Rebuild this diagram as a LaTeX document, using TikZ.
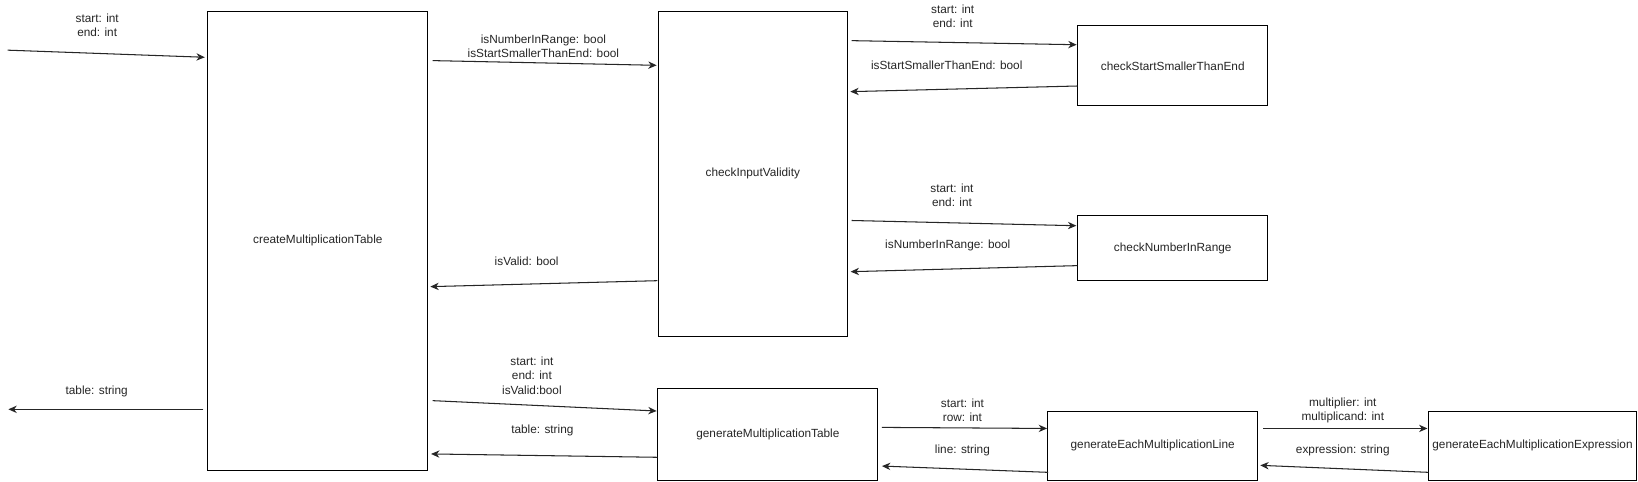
\documentclass[tikz,border=0pt]{standalone}
\usepackage{fontspec}
\setmainfont{Liberation Sans}
\usetikzlibrary{arrows.meta}
\begin{document}
\begin{tikzpicture}[x=1pt,y=-1pt,
  box/.style={draw=black, line width=1pt, fill=white, inner sep=0pt, anchor=north west,
    font=\fontsize{11.3}{13.5}\selectfont, text=black!85},
  lbl/.style={inner sep=0pt, align=center, font=\fontsize{11.3}{13.5}\selectfont, text=black!85},
  arr/.style={draw=black!85, line width=1pt, -{Stealth[length=8pt,width=7pt,inset=2.5pt]}}]
\useasboundingbox[fill=white] (0,0) rectangle (1567.5,461.2);
% boxes
\node[box, minimum width=210.5pt, minimum height=439.3pt] (cmt) at (198.4,10.2) {createMultiplicationTable};
\node[box, minimum width=181.1pt, minimum height=311pt] (civ) at (629.4,10.2) {checkInputValidity};
\node[box, minimum width=181.5pt, minimum height=76.6pt] (css) at (1031,24.2) {checkStartSmallerThanEnd};
\node[box, minimum width=181.5pt, minimum height=62pt] (cnr) at (1031,206) {checkNumberInRange};
\node[box, minimum width=210.6pt, minimum height=87.7pt] (gmt) at (629,371.6) {generateMultiplicationTable};
\node[box, minimum width=200.8pt, minimum height=66.3pt] (gel) at (1002.2,393) {generateEachMultiplicationLine};
\node[box, minimum width=198.9pt, minimum height=66.3pt] (gee) at (1366.6,393) {generateEachMultiplicationExpression};
% free ends
\coordinate (in) at (7.3,48);
\coordinate (out) at (8,391.7);
% connectors
\draw[arr] (in) -- ([shift={(-2.4,44.6)}]cmt.north west);
\draw[arr] ([shift={(4.1,47.8)}]cmt.north east) -- ([shift={(-1,52.3)}]civ.north west);
\draw[arr] ([shift={(3.5,28.7)}]civ.north east) -- ([shift={(-0.7,18.6)}]css.north west);
\draw[arr] ([shift={(0,58.1)}]css.north west) -- ([shift={(2.2,77.5)}]civ.north east);
\draw[arr] ([shift={(3.5,200.8)}]civ.north east) -- ([shift={(-1,10)}]cnr.north west);
\draw[arr] ([shift={(0,48.2)}]cnr.north west) -- ([shift={(2.5,249.8)}]civ.north east);
\draw[arr] ([shift={(-0.4,258.4)}]civ.north west) -- ([shift={(1.9,264.1)}]cmt.north east);
\draw[arr] ([shift={(4.1,373.2)}]cmt.north east) -- ([shift={(-0.6,21.7)}]gmt.north west);
\draw[arr] ([shift={(0,66)}]gmt.north west) -- ([shift={(2.6,424.2)}]cmt.north east);
\draw[arr] ([shift={(3.4,37.4)}]gmt.north east) -- ([shift={(-0.2,17)}]gel.north west);
\draw[arr] ([shift={(0.8,59)}]gel.north west) -- ([shift={(3.4,74.4)}]gmt.north east);
\draw[arr] ([shift={(5,17)}]gel.north east) -- ([shift={(-0.6,17)}]gee.north west);
\draw[arr] ([shift={(0.4,59)}]gee.north west) -- ([shift={(2,52.3)}]gel.north east);
\draw[arr] ([shift={(-3.8,381.5)}]cmt.north west) -- (out);
% labels
\node[lbl] (lin) at (93,24) {start: int\\end: int};
\node[lbl] (l1) at (520,44) {isNumberInRange: bool\\isStartSmallerThanEnd: bool};
\node[lbl] (l2) at (911.7,15.6) {start: int\\end: int};
\node[lbl] (l3) at (906,62.8) {isStartSmallerThanEnd: bool};
\node[lbl] (l4) at (911,187) {start: int\\end: int};
\node[lbl] (l5) at (907,235) {isNumberInRange: bool};
\node[lbl] (l6) at (504,250) {isValid: bool};
\node[lbl] (l7) at (509,359.5) {start: int\\end: int\\isValid:bool};
\node[lbl] (l8) at (519,412) {table: string};
\node[lbl] (l9) at (921,393) {start: int\\row: int};
\node[lbl] (l10) at (921,431) {line: string};
\node[lbl] (l11) at (1285,393) {multiplier: int\\multiplicand: int};
\node[lbl] (l12) at (1285,431) {expression: string};
\node[lbl] (lout) at (92.5,374.8) {table: string};
\end{tikzpicture}
\end{document}
